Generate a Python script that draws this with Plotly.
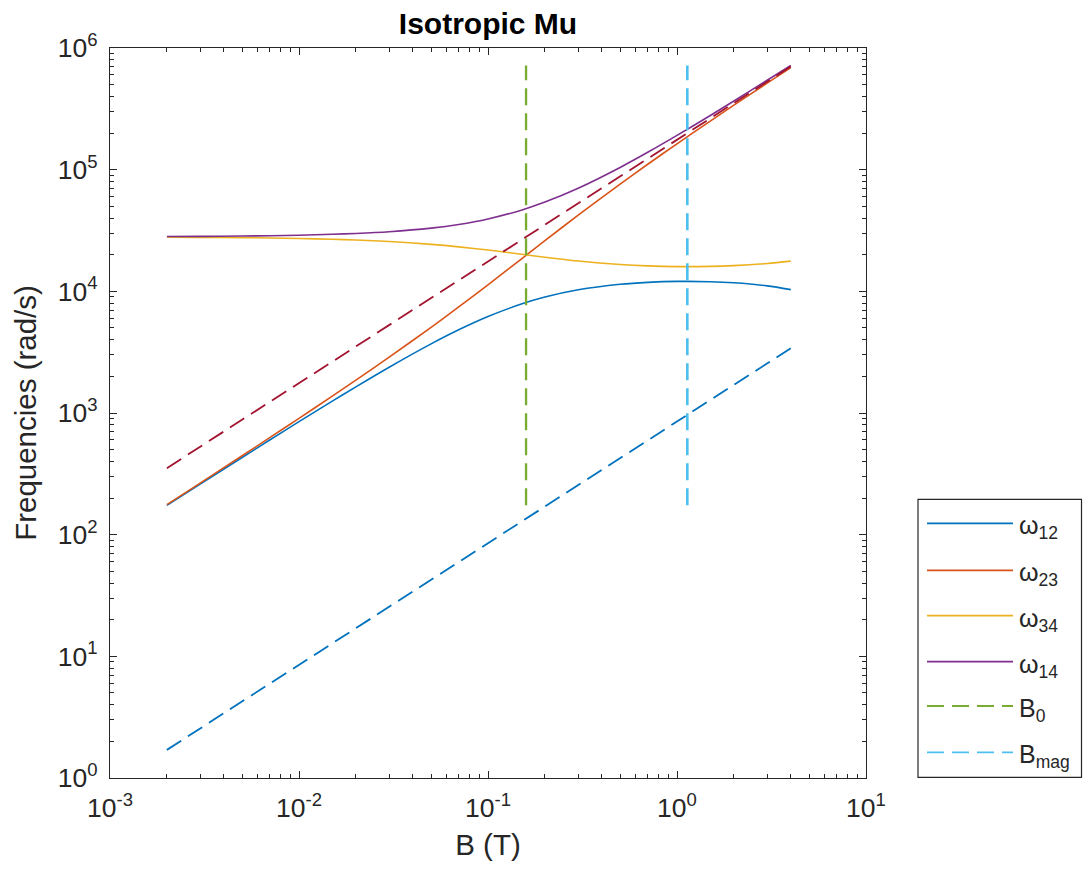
import plotly.graph_objects as go

# Field values (T) at which the transition frequencies are tabulated
B = [0.002, 0.003, 0.005, 0.007, 0.01, 0.015, 0.02, 0.03, 0.05, 0.07, 0.1,
     0.15, 0.2, 0.3, 0.5, 0.7, 1.0, 1.5, 2.0, 3.0, 4.0]

# Transition frequencies (rad/s)
w12 = [174.1, 260.4, 431.1, 599.7, 848.3, 1251.6, 1641.2, 2379.6, 3699.7, 4826.5,
       6203.9, 7858.2, 8968.5, 10289, 11426, 11857, 12064, 12004, 11762, 11095, 10336]
w23 = [176.4, 265.4, 445.1, 627.0, 904.1, 1377.0, 1863.6, 2877.6, 5062.3, 7440.2,
       11320, 18428, 26079, 42282, 76194, 110810, 163174, 250854, 338715, 514620, 690618]
w34 = [27866, 27780, 27609, 27440, 27192, 26788, 26399, 25660, 24340, 23214,
       21836, 20182, 19071, 17751, 16614, 16183, 15976, 16036, 16278, 16945, 17704]
w14 = [28216, 28305, 28485, 28667, 28944, 29417, 29904, 30918, 33102, 35480,
       39360, 46468, 54119, 70322, 104234, 138850, 191214, 278894, 366755, 542660, 718658]

# Larmor reference lines (end points)
B_ref = [0.002, 4.0]
w_e = [352.2, 704360]
w_mu = [1.703, 3406]

# Characteristic fields and the vertical extent of their markers
B0 = 0.159
Bmag = 1.134
f_span = [174.1, 718658]

# Axis ticks
x_ticks = [1e-3, 1e-2, 1e-1, 1e0, 1e1]
x_ticktext = ["10<sup>-3</sup>", "10<sup>-2</sup>", "10<sup>-1</sup>", "10<sup>0</sup>", "10<sup>1</sup>"]
y_ticks = [1e0, 1e1, 1e2, 1e3, 1e4, 1e5, 1e6]
y_ticktext = ["10<sup>0</sup>", "10<sup>1</sup>", "10<sup>2</sup>", "10<sup>3</sup>",
              "10<sup>4</sup>", "10<sup>5</sup>", "10<sup>6</sup>"]

legend_labels = ["ω<sub>12</sub>", "ω<sub>23</sub>", "ω<sub>34</sub>", "ω<sub>14</sub>",
                 "B<sub>0</sub>", "B<sub>mag</sub>"]

C_BLUE = "#0072BD"
C_ORANGE = "#D95319"
C_YELLOW = "#EDB120"
C_PURPLE = "#7E2F8E"
C_GREEN = "#77AC30"
C_CYAN = "#4DBEEE"
C_RED = "#A2142F"
AX = "#262626"
FONT = "Liberation Sans, Arial, Helvetica, sans-serif"
DASH = "17px,8px"

W, H = 1083, 877
ML, MR, MT, MB = 110, 217, 48, 99
PW, PH = W - ML - MR, H - MT - MB


def px_x(px):
    return (px - ML) / PW


def px_y(py):
    return (H - MB - py) / PH


fig = go.Figure()

curves = [(w12, C_BLUE), (w23, C_ORANGE), (w34, C_YELLOW), (w14, C_PURPLE)]
for ys, col in curves:
    fig.add_trace(go.Scatter(x=B, y=ys, mode="lines",
                             line=dict(color=col, width=1.6, shape="spline", smoothing=0.8),
                             showlegend=False, hoverinfo="skip"))

fig.add_trace(go.Scatter(x=[B0, B0], y=f_span, mode="lines",
                         line=dict(color=C_GREEN, width=2.3, dash=DASH),
                         showlegend=False, hoverinfo="skip"))
fig.add_trace(go.Scatter(x=[Bmag, Bmag], y=f_span, mode="lines",
                         line=dict(color=C_CYAN, width=2.6, dash=DASH),
                         showlegend=False, hoverinfo="skip"))
fig.add_trace(go.Scatter(x=B_ref, y=w_e, mode="lines",
                         line=dict(color=C_RED, width=1.8, dash=DASH),
                         showlegend=False, hoverinfo="skip"))
fig.add_trace(go.Scatter(x=B_ref, y=w_mu, mode="lines",
                         line=dict(color=C_BLUE, width=1.8, dash=DASH),
                         showlegend=False, hoverinfo="skip"))

minor_x = [m * 10.0 ** e for e in range(-3, 1) for m in range(2, 10)]
minor_y = [m * 10.0 ** e for e in range(0, 6) for m in range(2, 10)]

axis_common = dict(
    type="log", showgrid=False, zeroline=False, showline=True, linecolor=AX,
    linewidth=1.2, mirror="ticks", ticks="inside", ticklen=7, tickwidth=1.2,
    tickcolor=AX, tickfont=dict(family=FONT, size=26.5, color=AX),
    tickmode="array",
)

fig.update_xaxes(
    **axis_common, range=[-3, 1], tickvals=x_ticks, ticktext=x_ticktext,
    minor=dict(tickmode="array", tickvals=minor_x, ticks="inside", ticklen=4,
               tickwidth=1.1, tickcolor=AX, showgrid=False),
    ticklabelstandoff=6,
    title=dict(text="B (T)", font=dict(family=FONT, size=29.5, color=AX), standoff=12),
)
fig.update_yaxes(
    **axis_common, range=[0, 6], tickvals=y_ticks, ticktext=y_ticktext,
    minor=dict(tickmode="array", tickvals=minor_y, ticks="inside", ticklen=4,
               tickwidth=1.1, tickcolor=AX, showgrid=False),
    ticklabelstandoff=6,
    title=dict(text="Frequencies (rad/s)", font=dict(family=FONT, size=29.5, color=AX), standoff=12),
)

# Legend panel
shapes = [dict(type="rect", xref="paper", yref="paper",
               x0=px_x(918), x1=px_x(1081.5), y0=px_y(777.3), y1=px_y(499.3),
               line=dict(color=AX, width=1.2), fillcolor="white", layer="below")]
annotations = []
entry_y = [523.3, 570.3, 615.7, 661.7, 706.0, 752.3]
entry_style = [(C_BLUE, "solid"), (C_ORANGE, "solid"), (C_YELLOW, "solid"),
               (C_PURPLE, "solid"), (C_GREEN, DASH), (C_CYAN, DASH)]
for yy, (col, dash), lab in zip(entry_y, entry_style, legend_labels):
    shapes.append(dict(type="line", xref="paper", yref="paper",
                       x0=px_x(927), x1=px_x(1013), y0=px_y(yy), y1=px_y(yy),
                       line=dict(color=col, width=1.8, dash=dash)))
    annotations.append(dict(xref="paper", yref="paper", x=px_x(1017), y=px_y(yy),
                            xanchor="left", yanchor="middle", text=lab, showarrow=False,
                            font=dict(family=FONT, size=25, color=AX), yshift=-4))

fig.update_layout(
    width=W, height=H, margin=dict(l=ML, r=MR, t=MT, b=MB, autoexpand=False),
    paper_bgcolor="white", plot_bgcolor="white",
    title=dict(text="<b>Isotropic Mu</b>", x=px_x(488), xref="paper", xanchor="center",
               y=1 - 23 / H, yref="container", yanchor="middle",
               font=dict(family=FONT, size=30, color="#000000")),
    shapes=shapes, annotations=annotations, showlegend=False,
)

fig.write_html("out.html")
